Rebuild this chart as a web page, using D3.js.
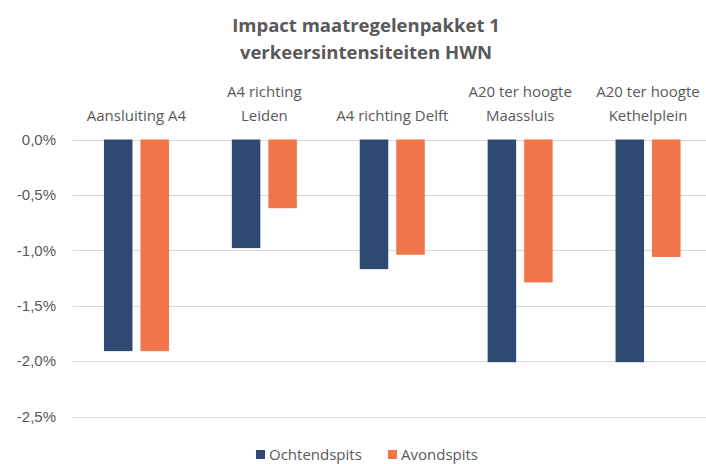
<!DOCTYPE html>
<html>
<head>
<meta charset="utf-8">
<script src="https://cdn.jsdelivr.net/npm/d3@7"></script>
<style>
  html, body { margin: 0; padding: 0; background: #fff; }
  svg { display: block; font-family: "Open Sans", "Noto Sans", sans-serif; }
</style>
</head>
<body>
<svg id="chart" width="706" height="464"></svg>
<script>
// Locations (each label may wrap onto two lines)
const categories = [
  ["Aansluiting A4"],
  ["A4 richting", "Leiden"],
  ["A4 richting Delft"],
  ["A20 ter hoogte", "Maassluis"],
  ["A20 ter hoogte", "Kethelplein"]
];
const seriesNames = ["Ochtendspits", "Avondspits"];
// Change in traffic intensity, percent
const ochtendspits = [-1.91, -0.98, -1.17, -2.01, -2.01];
const avondspits   = [-1.91, -0.62, -1.04, -1.29, -1.06];
const yTicks = [0, -0.5, -1.0, -1.5, -2.0, -2.5];
const titleLines = ["Impact maatregelenpakket 1", "verkeersintensiteiten HWN"];

const colors = ["#2E4A72", "#F07548"];
const svg = d3.select("#chart");

const margin = { left: 72.5, right: 712, top: 139.5, bottom: 416.5 };

const x = d3.scaleBand()
  .domain(d3.range(categories.length))
  .range([margin.left, margin.right])
  .paddingInner(0)
  .paddingOuter(0);

const y = d3.scaleLinear()
  .domain([0, -2.5])
  .range([margin.top, margin.bottom]);

const fmt = v => d3.format(".1f")(v).replace("−", "-").replace(".", ",") + "%";

// Gridlines and y tick labels
const yAxis = d3.axisLeft(y).tickValues(yTicks).tickSize(0).tickPadding(0).tickFormat(fmt);
const yg = svg.append("g").attr("transform", `translate(56,0)`).call(yAxis);
yg.select(".domain").remove();
yg.selectAll("text")
  .attr("fill", "#595959")
  .style("font-size", "15px")
  .attr("x", 0);

svg.append("g").selectAll("line")
  .data(yTicks)
  .join("line")
  .attr("x1", margin.left)
  .attr("x2", margin.right)
  .attr("y1", d => Math.round(y(d)) + 0.5)
  .attr("y2", d => Math.round(y(d)) + 0.5)
  .attr("stroke", "#d9d9d9")
  .attr("stroke-width", 1);

// Bars
const barW = 28.5, gap = 8;
const series = [ochtendspits, avondspits];
series.forEach((vals, s) => {
  svg.append("g").selectAll("rect")
    .data(vals)
    .join("rect")
    .attr("x", (d, i) => x(i) + x.bandwidth() / 2 + (s === 0 ? -gap / 2 - barW : gap / 2))
    .attr("y", d => y(0))
    .attr("width", barW)
    .attr("height", d => y(d) - y(0))
    .attr("fill", colors[s]);
});

// Category labels above the plot
const catG = svg.append("g");
categories.forEach((lines, i) => {
  const cx = x(i) + x.bandwidth() / 2;
  const t = catG.append("text")
    .attr("text-anchor", "middle")
    .attr("fill", "#595959")
    .style("font-size", "15px");
  lines.forEach((ln, k) => {
    t.append("tspan")
      .attr("x", cx)
      .attr("y", 121 - (lines.length - 1 - k) * 24)
      .text(ln);
  });
});

// Title
svg.append("g").selectAll("text")
  .data(titleLines)
  .join("text")
  .attr("x", 366)
  .attr("y", (d, i) => 32 + i * 27)
  .attr("text-anchor", "middle")
  .attr("fill", "#595959")
  .style("font-size", "18.5px")
  .style("font-weight", "bold")
  .text(d => d);

// Legend
const legend = svg.append("g");
const legendX = [256, 388];
seriesNames.forEach((name, i) => {
  legend.append("rect")
    .attr("x", legendX[i])
    .attr("y", 450)
    .attr("width", 9)
    .attr("height", 9)
    .attr("fill", colors[i]);
  legend.append("text")
    .attr("x", legendX[i] + 13)
    .attr("y", 459.5)
    .attr("fill", "#595959")
    .style("font-size", "15px")
    .text(name);
});
</script>
</body>
</html>
